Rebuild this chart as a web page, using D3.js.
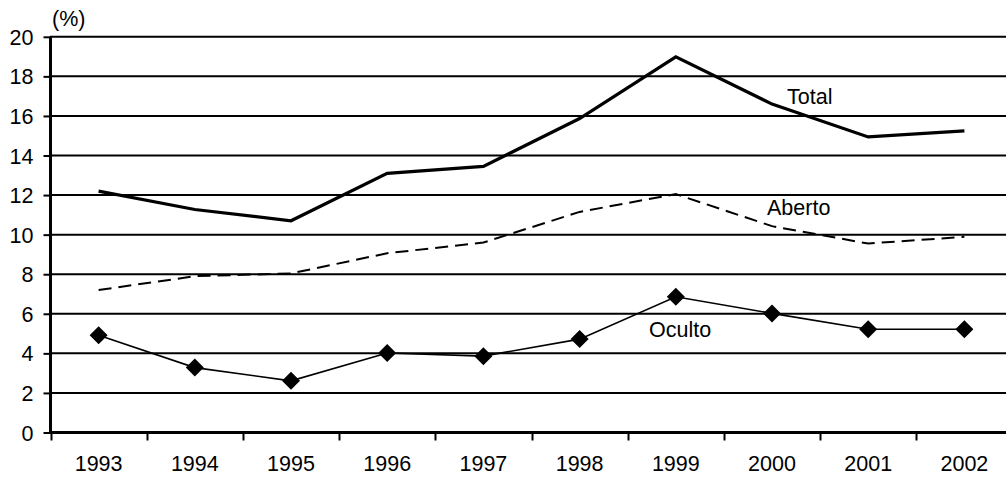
<!DOCTYPE html>
<html><head><meta charset="utf-8">
<script src="https://cdn.jsdelivr.net/npm/d3@7"></script>
<style>
html,body{margin:0;padding:0;background:#fff;overflow:hidden}
text{font-family:"Liberation Sans",Arial,sans-serif;fill:#000}
</style></head>
<body>
<svg id="c" width="1006" height="478"></svg>
<script>
const years = ["1993","1994","1995","1996","1997","1998","1999","2000","2001","2002"];
const total  = [12.2, 11.27, 10.7, 13.1, 13.45, 15.87, 18.99, 16.6, 14.94, 15.25];
const aberto = [7.2, 7.9, 8.04, 9.06, 9.6, 11.15, 12.05, 10.43, 9.55, 9.89];
const oculto = [4.92, 3.28, 2.61, 4.02, 3.86, 4.72, 6.86, 6.02, 5.22, 5.22];
const yTicks = [0,2,4,6,8,10,12,14,16,18,20];

const svg = d3.select("#c");
const x = d3.scaleBand().domain(years).range([50.5, 1012.5]);
const y = d3.scaleLinear().domain([0,20]).range([432.5, 36.8]);
const fs = "21.5px";

// gridlines
svg.append("g").selectAll("line").data(yTicks.filter(d=>d>0)).join("line")
  .attr("x1",50).attr("x2",1012)
  .attr("y1",d=>y(d)).attr("y2",d=>y(d))
  .attr("stroke","#000").attr("stroke-width",2);

// y axis
const ya = svg.append("g").attr("transform","translate(50.5,0)")
  .call(d3.axisLeft(y).tickValues(yTicks).tickSize(7).tickPadding(10).tickFormat(d3.format("d")));
ya.select(".domain").attr("stroke","#000").attr("stroke-width",3).attr("d","M0,"+y(20)+"V"+(y(0)+1));
ya.selectAll(".tick line").attr("stroke","#000").attr("stroke-width",2);
ya.selectAll(".tick text").style("font-size",fs).attr("dy","0.35em");

// x axis
const xa = svg.append("g").attr("transform","translate(0,"+y(0)+")")
  .call(d3.axisBottom(x).tickSize(0).tickPadding(23));
xa.select(".domain").attr("stroke","#000").attr("stroke-width",3).attr("d","M49,0H1012");
xa.selectAll(".tick text").style("font-size",fs);
// tick marks at band boundaries
svg.append("g").selectAll("line").data(years).join("line")
  .attr("x1",d=>Math.round(x(d))+0.5).attr("x2",d=>Math.round(x(d))+0.5)
  .attr("y1",y(0)).attr("y2",y(0)+8)
  .attr("stroke","#000").attr("stroke-width",2);

const cx = d => x(d) + x.bandwidth()/2;
const line = arr => d3.line().x((d,i)=>cx(years[i])).y(d=>y(d))(arr);

svg.append("path").attr("d",line(total)).attr("fill","none")
  .attr("stroke","#000").attr("stroke-width",3.2).attr("stroke-linejoin","miter");
svg.append("path").attr("d",line(aberto)).attr("fill","none")
  .attr("stroke","#000").attr("stroke-width",2).attr("stroke-dasharray","13,7");
svg.append("path").attr("d",line(oculto)).attr("fill","none")
  .attr("stroke","#000").attr("stroke-width",1.6);
svg.append("g").selectAll("path").data(oculto).join("path")
  .attr("d","M0,-9L9,0L0,9L-9,0Z")
  .attr("transform",(d,i)=>"translate("+cx(years[i])+","+y(d)+")")
  .attr("fill","#000");

// series labels
svg.append("text").attr("x",787).attr("y",103.5).style("font-size",fs).text("Total");
svg.append("text").attr("x",767).attr("y",215).style("font-size",fs).text("Aberto");
svg.append("text").attr("x",649).attr("y",336.5).style("font-size",fs).text("Oculto");
svg.append("text").attr("x",52).attr("y",26).style("font-size",fs).text("(%)");
</script>
</body></html>
